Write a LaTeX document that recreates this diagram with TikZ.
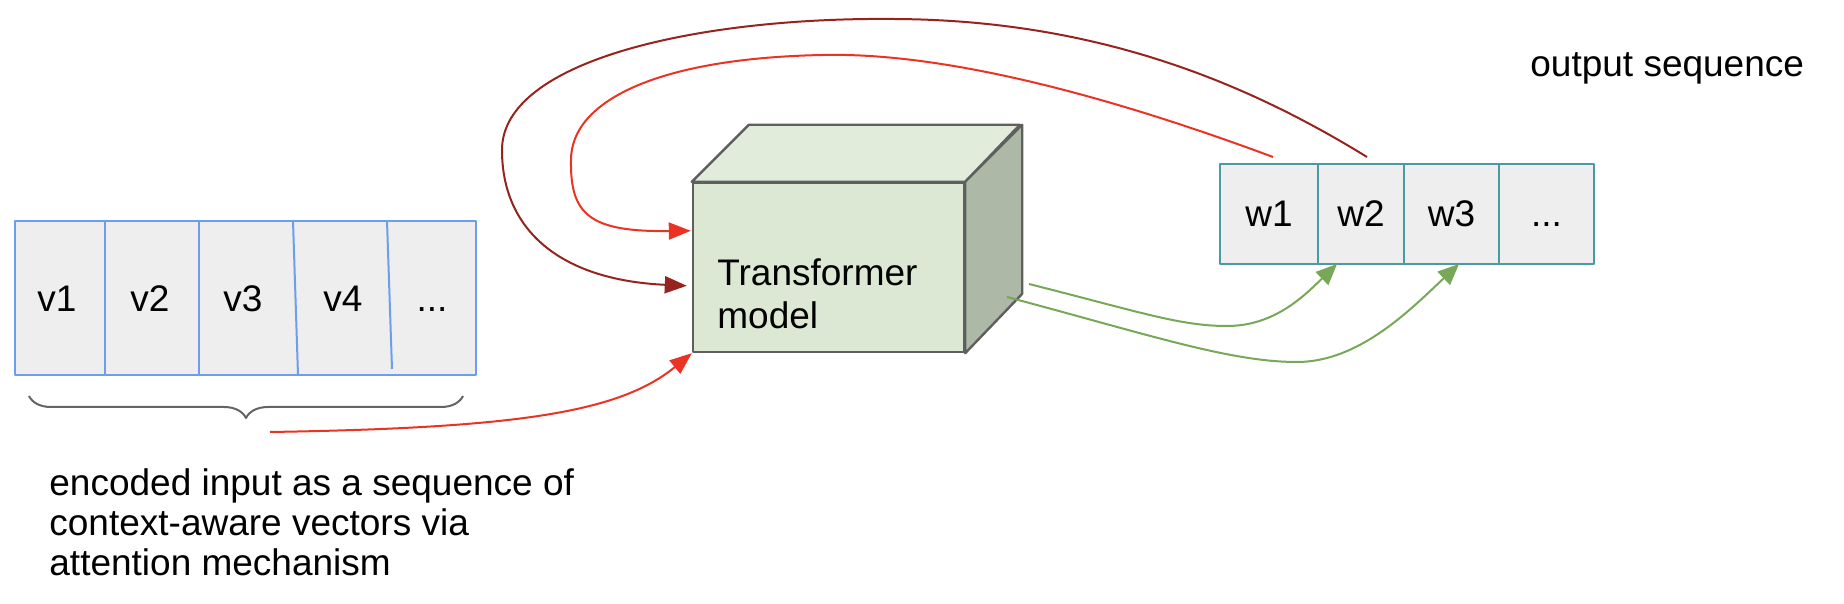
\documentclass[tikz,border=0pt]{standalone}
\usepackage{fontspec}
\setmainfont{Liberation Sans}
\usepackage{tikz}
\usetikzlibrary{calc,arrows.meta,positioning,decorations.pathreplacing}
\definecolor{inblue}{RGB}{109,158,235}
\definecolor{outteal}{RGB}{76,153,166}
\definecolor{cellgray}{RGB}{238,238,238}
\definecolor{cubeedge}{RGB}{95,95,95}
\definecolor{cubefront}{RGB}{221,232,212}
\definecolor{cubetop}{RGB}{226,236,219}
\definecolor{cubeside}{RGB}{173,185,166}
\definecolor{attnred}{RGB}{234,51,35}
\definecolor{attndark}{RGB}{150,35,30}
\definecolor{gengreen}{RGB}{118,168,88}
\definecolor{bracegray}{RGB}{100,100,100}
\newcommand{\moredots}{...}

\tikzset{
  celltxt/.style={font=\fontsize{18.5}{20}\selectfont,inner sep=0pt},
  seqbox/.style={draw=inblue,fill=cellgray,line width=1pt,inner sep=0pt},
  outcell/.style={draw=outteal,fill=cellgray,line width=1pt,inner sep=0pt,
    minimum height=50pt,text height=13pt,text depth=0pt,celltxt},
  attn/.style={draw=attnred,line width=1pt,-{Triangle[length=11pt,width=8.5pt]}},
  attnback/.style={draw=attndark,line width=1pt,-{Triangle[length=11pt,width=8.5pt]}},
  gen/.style={draw=gengreen,line width=1pt,-{Triangle[length=10.5pt,width=9pt]}},
}

\begin{document}
\begin{tikzpicture}[x=0.5pt,y=-0.5pt,>=Stealth,line join=round]
  \useasboundingbox (0,0) rectangle (1844,604);

  % encoded input
  \node[seqbox,minimum width=230.5pt,minimum height=77pt] (inseq) at (245.5,298) {};
  \foreach \xa/\xb/\yb in {105/105/375,199/199/375,293/298/375,387/392/369}
    \draw[inblue,line width=1pt] (\xa,221) -- (\xb,\yb);
  \foreach \n/\x/\t in {v1/57/v1,v2/150/v2,v3/243/v3,v4/343/v4,v5/432/\moredots}
    \node[celltxt,anchor=base] (\n) at (\x,312) {\t};
  \draw[bracegray,line width=1pt,decorate,decoration={brace,mirror,amplitude=11pt}]
    (29,396) -- (463,396);
  \node[celltxt,anchor=base west,align=left] (enc) at (49,575)
    {encoded input as a sequence of\\context-aware vectors via\\attention mechanism};
  \coordinate (encsrc) at (270,432);

  % transformer cube
  \node[draw=cubeedge,fill=cubefront,line width=1.2pt,inner sep=0pt,
    minimum width=135.5pt,minimum height=84.5pt] (model) at (828.5,267.5) {};
  \filldraw[draw=cubeedge,fill=cubetop,line width=1.2pt]
    (model.north west) -- ++(57,-57) -- ++(271,0) -- (model.north east) -- cycle;
  \filldraw[draw=cubeedge,fill=cubeside,line width=1.2pt]
    (model.north east) -- ++(57,-57) -- ++(0,169) -- (model.south east) -- cycle;
  \node[celltxt,font=\fontsize{18.5}{21.5}\selectfont,anchor=base west,align=left]
    (modellbl) at (717,329) {Transformer\\model};

  % output sequence
  \foreach \n/\x/\w/\t in {w1/1269/49/w1,w2/1361/43/w2,w3/1451.5/47.5/w3,w4/1546.5/47.5/\moredots}
    \node[outcell,minimum width=\w pt] (\n) at (\x,214) {\t};
  \node[celltxt,anchor=base west] (outlbl) at (1530,77) {output sequence};

  % attention links
  \draw[attn] (encsrc) .. controls (520,428) and (620,412) .. (model.south west);
  \coordinate (w1src) at ($(w1.north)+(4,-6)$);
  \draw[attn] (w1src) .. controls (1120,100) and (950,52) .. (823,55)
    .. controls (660,58) and (571,100) .. (571,160)
    .. controls (570,215) and (590,232) .. ($(model.north west)+(-1,49)$);
  \coordinate (w2src) at ($(w2.north)+(6,-6)$);
  \draw[attnback] (w2src) .. controls (1250,85) and (1100,20) .. (894,19)
    .. controls (700,17) and (502,60) .. (502,150)
    .. controls (502,230) and (560,280) .. ($(model.north west)+(-5,104)$);

  % generated tokens
  \coordinate (g1) at (1029,284);
  \coordinate (g2) at (1007,297);
  \draw[gen] (g1) .. controls (1140,312) and (1180,326) .. (1227,326)
    .. controls (1275,326) and (1305,295) .. ($(w2.south)+(-24,-1)$);
  \draw[gen] (g2) .. controls (1150,335) and (1230,362) .. (1297,362)
    .. controls (1360,362) and (1412,308) .. ($(w3.south)+(7.5,-1)$);
\end{tikzpicture}
\end{document}
